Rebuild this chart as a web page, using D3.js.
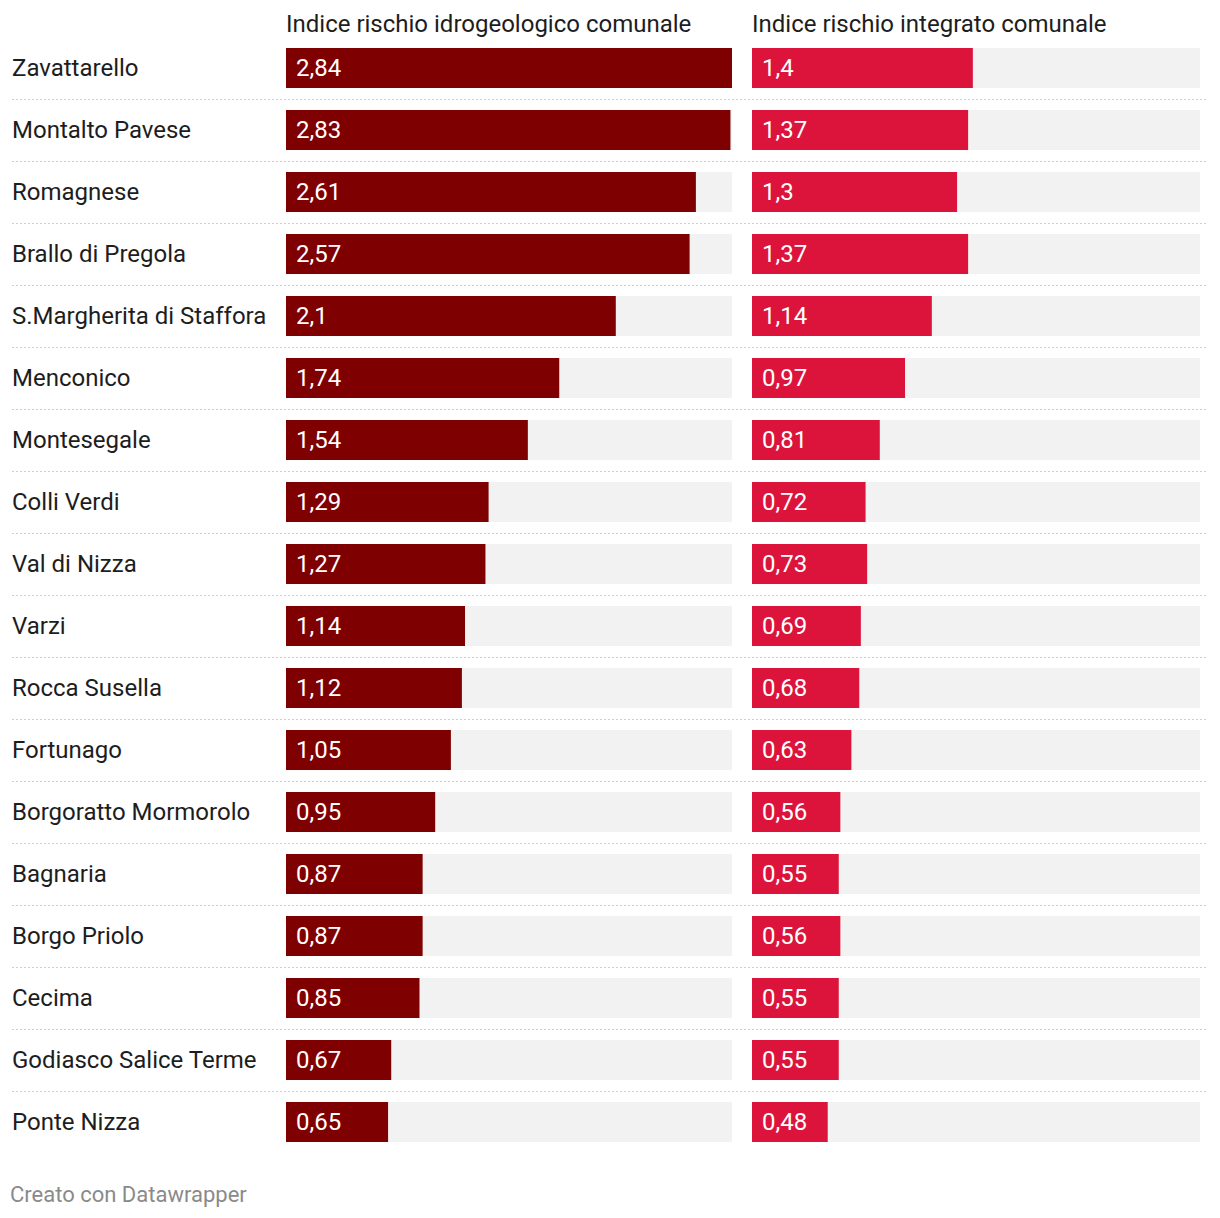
<!DOCTYPE html>
<html><head><meta charset="utf-8">
<script src="https://cdn.jsdelivr.net/npm/d3@7"></script>
<style>
body{margin:0;background:#fff;font-family:Roboto,sans-serif;}
</style></head><body>
<svg id="c" width="1220" height="1218"></svg>
<script>
const categories = ["Zavattarello","Montalto Pavese","Romagnese","Brallo di Pregola","S.Margherita di Staffora","Menconico","Montesegale","Colli Verdi","Val di Nizza","Varzi","Rocca Susella","Fortunago","Borgoratto Mormorolo","Bagnaria","Borgo Priolo","Cecima","Godiasco Salice Terme","Ponte Nizza"];
const idro = [2.84,2.83,2.61,2.57,2.1,1.74,1.54,1.29,1.27,1.14,1.12,1.05,0.95,0.87,0.87,0.85,0.67,0.65];
const integrato = [1.4,1.37,1.3,1.37,1.14,0.97,0.81,0.72,0.73,0.69,0.68,0.63,0.56,0.55,0.56,0.55,0.55,0.48];
const headers = ["Indice rischio idrogeologico comunale","Indice rischio integrato comunale"];
const footer = "Creato con Datawrapper";

const svg = d3.select("#c");
const yb = d3.scaleBand().domain(categories).range([48-11, 48-11+62*categories.length]).paddingInner(22/62).paddingOuter(11/62);
const maxV = d3.max([...idro, ...integrato]);
const cols = [
  {vals: idro, x0: 286, x1: 732, color: "#7f0000"},
  {vals: integrato, x0: 752, x1: 1200, color: "#dc143c"}
];
const fmt = v => String(v).replace(".", ",");

// separators
svg.append("g").selectAll("line").data(categories.slice(0,-1)).join("line")
  .attr("x1", 12).attr("x2", 1208)
  .attr("y1", d => yb(d) + yb.bandwidth() + 11 + 0.5)
  .attr("y2", d => yb(d) + yb.bandwidth() + 11 + 0.5)
  .attr("stroke", "#cfcfcf").attr("stroke-width", 1).attr("stroke-dasharray", "2,2");

// labels
svg.append("g").selectAll("text").data(categories).join("text")
  .attr("x", 12).attr("y", d => yb(d) + yb.bandwidth()/2)
  .attr("dy", "0.35em").attr("font-size", 24).attr("fill", "#1d1d1d").text(d => d);

cols.forEach((c, i) => {
  const x = d3.scaleLinear().domain([0, maxV]).range([c.x0, c.x1]);
  const g = svg.append("g");
  g.append("text").attr("x", c.x0).attr("y", 32).attr("font-size", 24).attr("fill", "#1d1d1d").text(headers[i]);
  g.selectAll("rect.bg").data(categories).join("rect").attr("class","bg")
    .attr("x", x(0)).attr("width", x(maxV) - x(0))
    .attr("y", d => yb(d)).attr("height", yb.bandwidth()).attr("fill", "#f2f2f2");
  g.selectAll("rect.v").data(c.vals).join("rect").attr("class","v")
    .attr("x", x(0)).attr("width", d => x(d) - x(0))
    .attr("y", (d,j) => yb(categories[j])).attr("height", yb.bandwidth()).attr("fill", c.color);
  g.selectAll("text.v").data(c.vals).join("text").attr("class","v")
    .attr("x", x(0) + 10).attr("y", (d,j) => yb(categories[j]) + yb.bandwidth()/2)
    .attr("dy", "0.35em").attr("font-size", 24).attr("fill", "#fff").text(fmt);
});

svg.append("text").attr("x", 10).attr("y", 1202).attr("font-size", 22).attr("fill", "#8a8a8a").text(footer);
</script>
</body></html>
